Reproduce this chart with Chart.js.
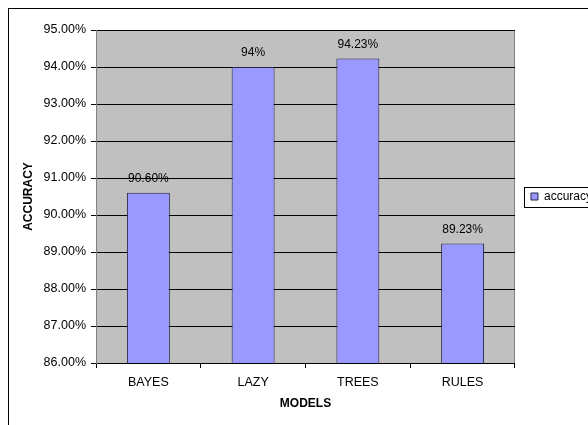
<!DOCTYPE html>
<html>
<head>
<meta charset="utf-8">
<script src="https://cdn.jsdelivr.net/npm/chart.js@4"></script>
<style>
  body { margin: 0; background: #fff; }
  #wrap { width: 588px; height: 425px; position: relative; }
</style>
</head>
<body>
<div id="wrap"><canvas id="myChart"></canvas></div>
<script>
// datos
const modelos = ["BAYES", "LAZY", "TREES", "RULES"];
const precision = [90.60, 94.00, 94.23, 89.23];
const etiquetas = ["90.60%", "94%", "94.23%", "89.23%"];
const nombreSerie = "accuracy";
const ejeMin = 86;
const ejeMax = 95;

const fuente = "'Liberation Sans', Arial, sans-serif";

// fondo blanco, marco exterior y fondo gris del area de trazado
const fondoPlugin = {
  id: "fondo",
  beforeDraw(chart) {
    const { ctx, chartArea: a } = chart;
    ctx.save();
    ctx.fillStyle = "#fff";
    ctx.fillRect(0, 0, chart.width, chart.height);
    ctx.strokeStyle = "#000";
    ctx.lineWidth = 1;
    ctx.strokeRect(8.5, 8.5, chart.width + 10, chart.height + 10);
    ctx.fillStyle = "#c0c0c0";
    ctx.fillRect(a.left, a.top, a.right - a.left, a.bottom - a.top);
    ctx.strokeStyle = "#808080";
    ctx.strokeRect(a.left + 0.5, a.top + 0.5, a.right - a.left - 1, a.bottom - a.top);
    ctx.restore();
  }
};

// la leyenda se centra en la altura del area de trazado, como en excel
const leyendaAltura = {
  id: "leyendaAltura",
  afterLayout(chart) {
    const ley = chart.legend;
    ley.top = chart.chartArea.top;
    ley.bottom = chart.chartArea.bottom;
    ley.height = ley.bottom - ley.top;
  }
};

// etiquetas de valor sobre cada barra
const etiquetasPlugin = {
  id: "etiquetas",
  afterDatasetsDraw(chart) {
    const { ctx } = chart;
    const meta = chart.getDatasetMeta(0);
    ctx.save();
    ctx.font = "12px " + fuente;
    ctx.fillStyle = "#000";
    ctx.textAlign = "center";
    ctx.textBaseline = "middle";
    meta.data.forEach((barra, i) => {
      ctx.fillText(etiquetas[i], barra.x, barra.y - 14);
    });
    ctx.restore();
  }
};

// caja alrededor de la leyenda
const cajaLeyenda = {
  id: "cajaLeyenda",
  afterDraw(chart) {
    const caja = chart.legend.legendHitBoxes[0];
    if (!caja) return;
    const { ctx } = chart;
    ctx.save();
    ctx.strokeStyle = "#000";
    ctx.lineWidth = 1;
    ctx.strokeRect(Math.round(caja.left - 7) + 0.5, Math.round(caja.top - 4) + 0.5, 100, Math.round(caja.height + 8));
    ctx.restore();
  }
};

const config = {
  type: "bar",
  data: {
    labels: modelos,
    datasets: [{
      label: nombreSerie,
      data: precision,
      backgroundColor: "#9999ff",
      borderColor: "#222244",
      borderWidth: 1,
      barPercentage: 0.41,
      categoryPercentage: 1
    }]
  },
  options: {
    responsive: true,
    maintainAspectRatio: false,
    animation: false,
    layout: { padding: { left: 12, top: 30, right: -14, bottom: 0 } },
    plugins: {
      tooltip: { enabled: false },
      legend: {
        position: "right",
        labels: {
          boxWidth: 7,
          boxHeight: 7,
          padding: 16,
          color: "#000",
          font: { family: fuente, size: 12 }
        }
      }
    },
    scales: {
      x: {
        afterFit(scale) { scale.height = 425 - 363; },
        grid: { drawOnChartArea: false, tickLength: 5, color: "#000" },
        border: { color: "#000" },
        ticks: { color: "#000", padding: 7, font: { family: fuente, size: 12.5 } },
        title: {
          display: true,
          text: "MODELS",
          color: "#000",
          padding: { top: 0, bottom: 14 },
          font: { family: fuente, size: 12, weight: "bold" }
        }
      },
      y: {
        min: ejeMin,
        max: ejeMax,
        afterFit(scale) { scale.width = 84; },
        grid: { color: "#000", tickLength: 5 },
        border: { color: "#808080" },
        ticks: {
          stepSize: 1,
          color: "#000",
          padding: 5,
          font: { family: fuente, size: 12.5 },
          callback: v => v.toFixed(2) + "%"
        },
        title: {
          display: true,
          text: "ACCURACY",
          color: "#000",
          padding: { top: 9, bottom: 0 },
          font: { family: fuente, size: 12, weight: "bold" }
        }
      }
    }
  },
  plugins: [fondoPlugin, leyendaAltura, etiquetasPlugin, cajaLeyenda]
};

const grafico = new Chart(document.getElementById("myChart"), config);
</script>
</body>
</html>
